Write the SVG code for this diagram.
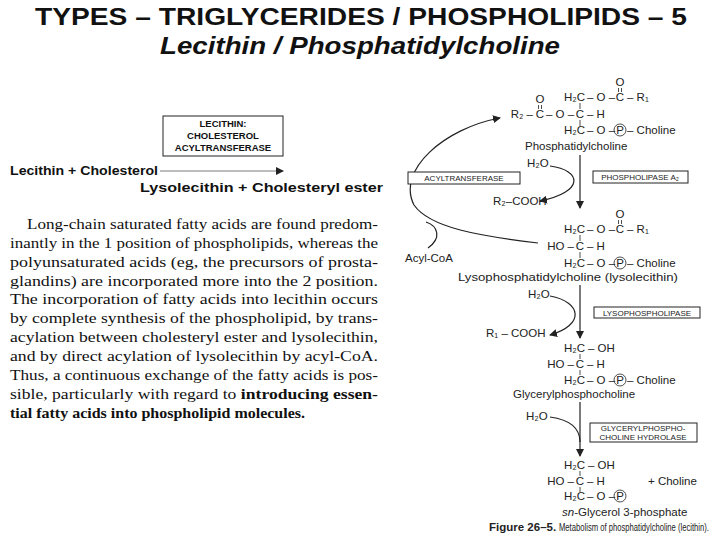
<svg xmlns="http://www.w3.org/2000/svg" width="720" height="540" viewBox="0 0 720 540">
<style>
.t{font-family:"Liberation Sans",Arial,sans-serif;fill:#111}
.s{font-family:"Liberation Sans",Arial,sans-serif;font-size:11.5px;fill:#222}
.b{font-family:"Liberation Sans",Arial,sans-serif;font-size:8px;fill:#222}
.p{font-family:"Liberation Serif","Times New Roman",serif;font-size:15.5px;fill:#111}
.ln{stroke:#222;stroke-width:1.2;fill:none}
.bd{stroke:#222;stroke-width:0.8;fill:none}
.bx{stroke:#222;stroke-width:1;fill:#fff}
.m{text-anchor:middle}
.e{text-anchor:end}
</style>
<defs>
<marker id="ah" markerWidth="8" markerHeight="8" refX="7" refY="4" orient="auto" markerUnits="userSpaceOnUse"><path d="M0,0 L8,4 L0,8 Z" fill="#222"/></marker>
</defs>
<rect width="720" height="540" fill="#fff"/>
<g id="title">
<text class="t" x="35" y="25" font-size="24" font-weight="bold" textLength="652" lengthAdjust="spacingAndGlyphs">TYPES – TRIGLYCERIDES / PHOSPHOLIPIDS – 5</text>
<text class="t" x="160" y="54" font-size="24" font-weight="bold" font-style="italic" textLength="400" lengthAdjust="spacingAndGlyphs">Lecithin / Phosphatidylcholine</text>
</g>
<g id="lcat">
<rect class="bx" x="163" y="116" width="120" height="40"/>
<text class="t m" x="223" y="127" font-size="9.5" font-weight="bold">LECITHIN:</text>
<text class="t m" x="223" y="139" font-size="9.5" font-weight="bold">CHOLESTEROL</text>
<text class="t m" x="223" y="151" font-size="9.5" font-weight="bold">ACYLTRANSFERASE</text>
<text class="t" x="10" y="175" font-size="13.5" font-weight="bold" textLength="148" lengthAdjust="spacingAndGlyphs">Lecithin  +  Cholesterol</text>
<line x1="160" y1="171" x2="283" y2="171" stroke="#444" stroke-width="0.7" marker-end="url(#ah)"/>
<text class="t" x="140" y="192" font-size="13.5" font-weight="bold" textLength="243" lengthAdjust="spacingAndGlyphs">Lysolecithin  +  Cholesteryl ester</text>
</g>
<g id="paragraph">
<text class="p" x="27" y="229" textLength="351" lengthAdjust="spacingAndGlyphs">Long-chain saturated fatty acids are found predom-</text>
<text class="p" x="10" y="248" textLength="368" lengthAdjust="spacingAndGlyphs">inantly in the 1 position of phospholipids, whereas the</text>
<text class="p" x="10" y="267" textLength="368" lengthAdjust="spacingAndGlyphs">polyunsaturated acids (eg, the precursors of prosta-</text>
<text class="p" x="10" y="286" textLength="368" lengthAdjust="spacingAndGlyphs">glandins) are incorporated more into the 2 position.</text>
<text class="p" x="10" y="304" textLength="368" lengthAdjust="spacingAndGlyphs">The incorporation of fatty acids into lecithin occurs</text>
<text class="p" x="10" y="323" textLength="368" lengthAdjust="spacingAndGlyphs">by complete synthesis of the phospholipid, by trans-</text>
<text class="p" x="10" y="342" textLength="368" lengthAdjust="spacingAndGlyphs">acylation between cholesteryl ester and lysolecithin,</text>
<text class="p" x="10" y="361" textLength="368" lengthAdjust="spacingAndGlyphs">and by direct acylation of lysolecithin by acyl-CoA.</text>
<text class="p" x="10" y="380" textLength="368" lengthAdjust="spacingAndGlyphs">Thus, a continuous exchange of the fatty acids is pos-</text>
<text class="p" x="10" y="399" textLength="368" lengthAdjust="spacingAndGlyphs">sible, particularly with regard to <tspan font-weight="bold">introducing essen-</tspan></text>
<text class="p" x="10" y="418" font-weight="bold" textLength="295" lengthAdjust="spacingAndGlyphs">tial fatty acids into phospholipid molecules.</text>
</g>
<g id="connectors">
<line class="ln" x1="580" y1="155" x2="580" y2="208" marker-end="url(#ah)"/>
<path class="ln" d="M550,166 C582,170 585,192 540,201" marker-end="url(#ah)"/>
<path class="ln" d="M538,243 C480,236 430,228 414,205 C396,170 445,128 500,118" marker-end="url(#ah)"/>
<path class="ln" d="M428,248 C442,238 438,226 426,222"/>
<line class="ln" x1="580" y1="285" x2="580" y2="338" marker-end="url(#ah)"/>
<path class="ln" d="M550,296 C582,302 585,325 550,335" marker-end="url(#ah)"/>
<line class="ln" x1="580" y1="402" x2="580" y2="456" marker-end="url(#ah)"/>
<path class="ln" d="M550,417 C572,420 580,430 580,442"/>
</g>
<g id="phosphatidylcholine">
<text class="s m" x="620" y="86">O</text><line class="bd" x1="618.5" y1="88" x2="618.5" y2="92"/><line class="bd" x1="621.5" y1="88" x2="621.5" y2="92"/>
<text class="s e" x="585" y="101">H₂C</text><text class="s m" x="601" y="101">– O –</text><text class="s m" x="620" y="101">C</text><text class="s" x="627" y="101">– R₁</text>
<text class="s m" x="540" y="103">O</text><line class="bd" x1="538.5" y1="105" x2="538.5" y2="109"/><line class="bd" x1="541.5" y1="105" x2="541.5" y2="109"/>
<text class="s e" x="533" y="118">R₂ –</text><text class="s m" x="540" y="118">C</text><text class="s m" x="560" y="118">– O –</text><text class="s m" x="580" y="118">C</text><text class="s" x="587" y="118">– H</text>
<line class="bd" x1="580" y1="103" x2="580" y2="109"/><line class="bd" x1="580" y1="120" x2="580" y2="126"/>
<text class="s e" x="585" y="134">H₂C</text><text class="s m" x="601" y="134">– O –</text><circle cx="620" cy="130" r="6" class="bd"/><text class="s m" x="620" y="134" font-size="9">P</text><text class="s" x="627" y="134">– Choline</text>
<text class="s" x="525" y="150">Phosphatidylcholine</text>
<text class="s" x="527" y="167">H₂O</text>
<text class="s" x="493" y="205">R₂–COOH</text>
<rect class="bx" x="408" y="172" width="112" height="12"/><text class="b m" x="464" y="181">ACYLTRANSFERASE</text>
<rect class="bx" x="593" y="171" width="95" height="12"/><text class="b m" x="640" y="180">PHOSPHOLIPASE A₂</text>
<text class="s" x="405" y="262">Acyl-CoA</text>
</g>
<g id="lysophosphatidylcholine">
<text class="s m" x="620" y="218">O</text><line class="bd" x1="618.5" y1="220" x2="618.5" y2="224"/><line class="bd" x1="621.5" y1="220" x2="621.5" y2="224"/>
<text class="s e" x="585" y="233">H₂C</text><text class="s m" x="601" y="233">– O –</text><text class="s m" x="620" y="233">C</text><text class="s" x="627" y="233">– R₁</text>
<text class="s e" x="574" y="250">HO –</text><text class="s m" x="580" y="250">C</text><text class="s" x="587" y="250">– H</text>
<line class="bd" x1="580" y1="235" x2="580" y2="241"/><line class="bd" x1="580" y1="252" x2="580" y2="258"/>
<text class="s e" x="585" y="267">H₂C</text><text class="s m" x="601" y="267">– O –</text><circle cx="620" cy="263" r="6" class="bd"/><text class="s m" x="620" y="267" font-size="9">P</text><text class="s" x="627" y="267">– Choline</text>
<text class="s" x="458" y="281" textLength="220" lengthAdjust="spacingAndGlyphs">Lysophosphatidylcholine (lysolecithin)</text>
<text class="s" x="528" y="298">H₂O</text>
<text class="s" x="486" y="337">R₁ – COOH</text>
<rect class="bx" x="594" y="307" width="106" height="11"/><text class="b m" x="647" y="315.5">LYSOPHOSPHOLIPASE</text>
</g>
<g id="glycerylphosphocholine">
<text class="s e" x="585" y="352">H₂C</text><text class="s" x="588" y="352">– OH</text>
<text class="s e" x="574" y="368">HO –</text><text class="s m" x="580" y="368">C</text><text class="s" x="587" y="368">– H</text>
<line class="bd" x1="580" y1="354" x2="580" y2="359"/><line class="bd" x1="580" y1="370" x2="580" y2="375"/>
<text class="s e" x="585" y="384">H₂C</text><text class="s m" x="601" y="384">– O –</text><circle cx="620" cy="380" r="6" class="bd"/><text class="s m" x="620" y="384" font-size="9">P</text><text class="s" x="627" y="384">– Choline</text>
<text class="s" x="513" y="398">Glycerylphosphocholine</text>
<text class="s" x="526" y="420">H₂O</text>
<rect class="bx" x="590" y="423" width="107" height="19"/><text class="b m" x="643" y="431">GLYCERYLPHOSPHO-</text><text class="b m" x="643" y="440">CHOLINE HYDROLASE</text>
</g>
<g id="glycerol3phosphate">
<text class="s e" x="585" y="469">H₂C</text><text class="s" x="588" y="469">– OH</text>
<text class="s e" x="574" y="485">HO –</text><text class="s m" x="580" y="485">C</text><text class="s" x="587" y="485">– H</text>
<line class="bd" x1="580" y1="471" x2="580" y2="476"/><line class="bd" x1="580" y1="487" x2="580" y2="492"/>
<text class="s e" x="585" y="500">H₂C</text><text class="s m" x="601" y="500">– O –</text><circle cx="620" cy="496" r="6" class="bd"/><text class="s m" x="620" y="500" font-size="9">P</text>
<text class="s" x="648" y="485">+ Choline</text>
<text class="s" x="562" y="516"><tspan font-style="italic">sn</tspan>-Glycerol 3-phosphate</text>
<text class="s" x="489" y="531" font-size="10" font-weight="bold">Figure 26–5.</text>
<text class="s" x="559" y="531" font-size="10" textLength="150" lengthAdjust="spacingAndGlyphs">Metabolism of phosphatidylcholine (lecithin).</text>
</g>
</svg>
